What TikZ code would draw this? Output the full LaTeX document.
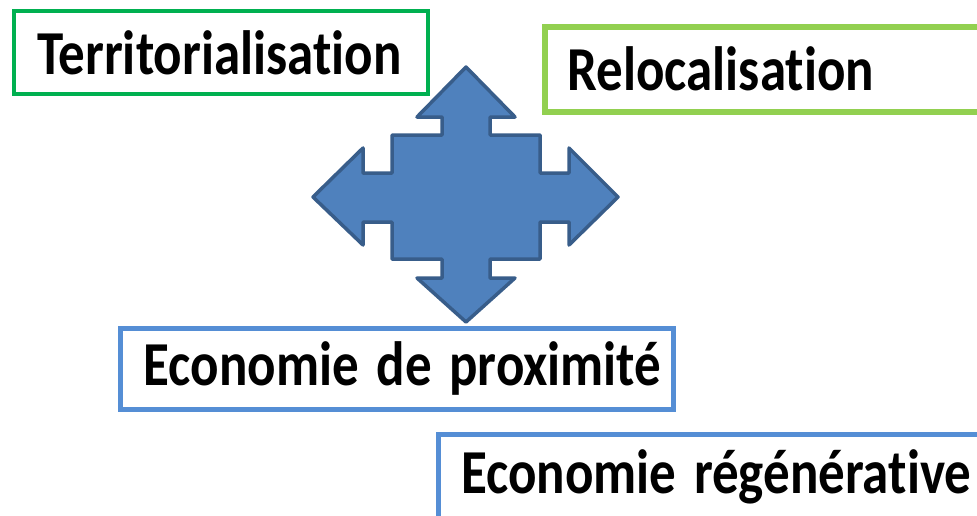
\documentclass[tikz,border=0pt]{standalone}
\usepackage{fontspec}
\setmainfont{Carlito}[Ligatures=NoCommon]
\definecolor{terrgreen}{HTML}{00B050}
\definecolor{relogreen}{HTML}{92D050}
\definecolor{ecoblue}{HTML}{558ED5}
\definecolor{arrowfill}{HTML}{4F81BD}
\definecolor{arrowline}{HTML}{385D8A}
\newcommand\boxtext[1]{\scalebox{1}[1.18]{#1}}
\tikzset{
  txtbox/.style={draw, fill=white, rectangle, anchor=north west, align=left,
    inner xsep=23pt, inner ysep=0pt,
    font=\fontsize{53}{60}\selectfont\bfseries, text=black},
  crossarrow/.style={fill=arrowfill, draw=arrowline, line width=3.5pt, line join=round}
}
\begin{document}
\begin{tikzpicture}[x=1pt,y=-1pt]
\clip (0,0) rectangle (977,515);
\fill[white] (0,0) rectangle (977,515);
% four-way arrow
\path[crossarrow] (466,67) -- (515,117) -- (490,117) -- (490,135) -- (540,135) -- (540,173)
  -- (569,173) -- (569,148) -- (618,197) -- (569,245) -- (569,222) -- (540,222)
  -- (540,259) -- (490,259) -- (490,278) -- (515,278) -- (466,322) -- (417,278)
  -- (442,278) -- (442,259) -- (392,259) -- (392,222) -- (363,222) -- (363,245)
  -- (313,197) -- (363,148) -- (363,173) -- (392,173) -- (392,135) -- (442,135)
  -- (442,117) -- (417,117) -- cycle;
% boxes
\node[txtbox, draw=terrgreen, line width=4pt, text width=368pt, minimum height=83pt]
  (terr) at (12,9) {\boxtext{Territorialisation}};
\node[txtbox, draw=relogreen, line width=6pt, text width=391.5pt, minimum height=85pt]
  (reloc) at (541.5,23.5) {\boxtext{Relocalisation}};
\node[txtbox, draw=ecoblue, line width=5pt, text width=507pt, minimum height=81.5pt]
  (prox) at (118,325.5) {\boxtext{Economie de proximité}};
\node[txtbox, draw=ecoblue, line width=5pt, text width=514pt, minimum height=84pt]
  (regen) at (435.5,432) {\boxtext{Economie régénérative}};
\end{tikzpicture}
\end{document}
